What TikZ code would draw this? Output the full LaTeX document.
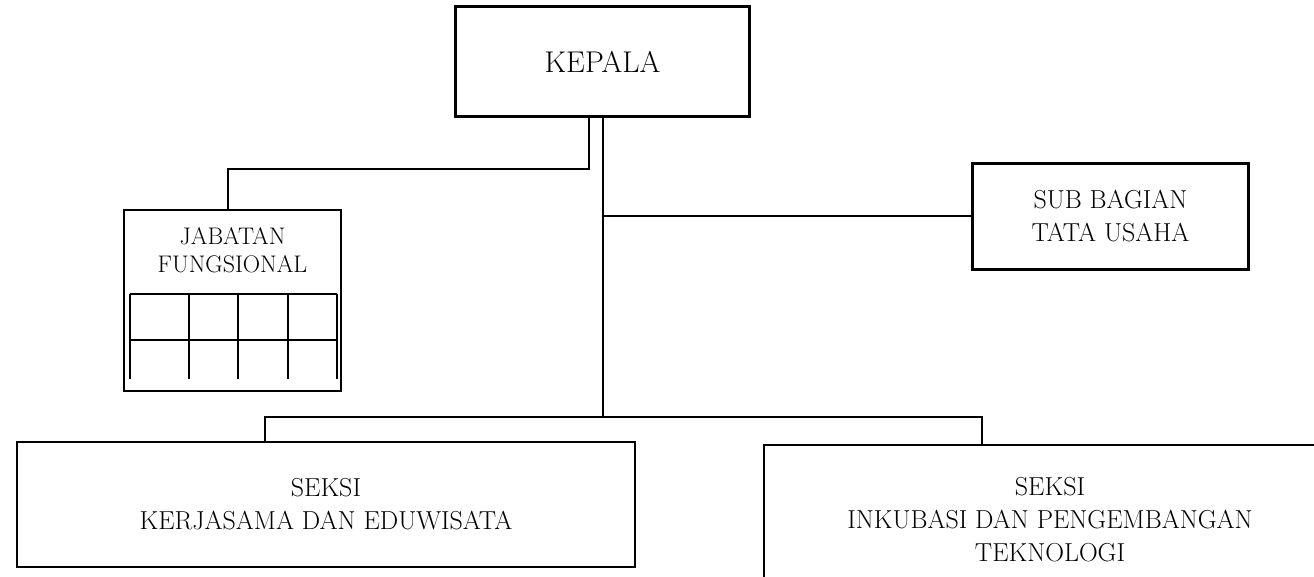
\documentclass[tikz,border=0pt]{standalone}
\usepackage{tikz}
\usetikzlibrary{positioning}

\begin{document}
\begin{tikzpicture}[x=1pt, y=-1pt,
        kotak/.style={draw, line width=2.4pt, inner sep=0pt, align=center},
        teks/.style={font=\fontsize{26}{33}\selectfont},
        garis/.style={line width=2pt}]
        %BATAS
        \useasboundingbox (0,0) rectangle (1314,577);
        \clip (0,0) rectangle (1314,577);

        %KOTAK
        \node[kotak, minimum width=294pt, minimum height=110pt, font=\fontsize{30}{36}\selectfont] (kepala) at (602.5,61.5) {KEPALA};
        \node[kotak, teks, minimum width=276pt, minimum height=106pt] (tu) at (1110.5,216.5) {SUB BAGIAN\\TATA USAHA};
        \node[kotak, minimum width=217pt, minimum height=181pt] (jf) at (232.5,300.5) {};
        \node[inner sep=0pt, align=center, font=\fontsize{24}{28}\selectfont, below=18.5pt of jf.north] (jfteks) {JABATAN\\FUNGSIONAL};
        \node[kotak, teks, minimum width=618pt, minimum height=125pt] (kerjasama) at (326,504.5) {SEKSI\\KERJASAMA DAN EDUWISATA};
        \node[kotak, teks, minimum width=572pt, minimum height=150pt] (inkubasi) at (1050,520) {SEKSI\\INKUBASI DAN PENGEMBANGAN\\TEKNOLOGI};

        %TABEL
        \draw[garis] (130,294) -- (337,294) (130,340) -- (337,340);
        \foreach \x in {130,189,238,288,337} \draw[garis] (\x,294) -- (\x,379);

        %GARIS
        \coordinate (cabang) at (602.5,417);
        \draw[garis] (kepala.south) -- (cabang);
        \draw[garis] (kepala.south |- tu.west) -- (tu.west);
        \draw[garis] ([xshift=-13.5pt]kepala.south) |- ([xshift=-4.5pt, yshift=40pt]jf.north) -- ([xshift=-4.5pt]jf.north);
        \draw[garis] ([xshift=-61pt]kerjasama.north) |- (cabang) -| ([xshift=-68pt]inkubasi.north);
    \end{tikzpicture}
\end{document}
